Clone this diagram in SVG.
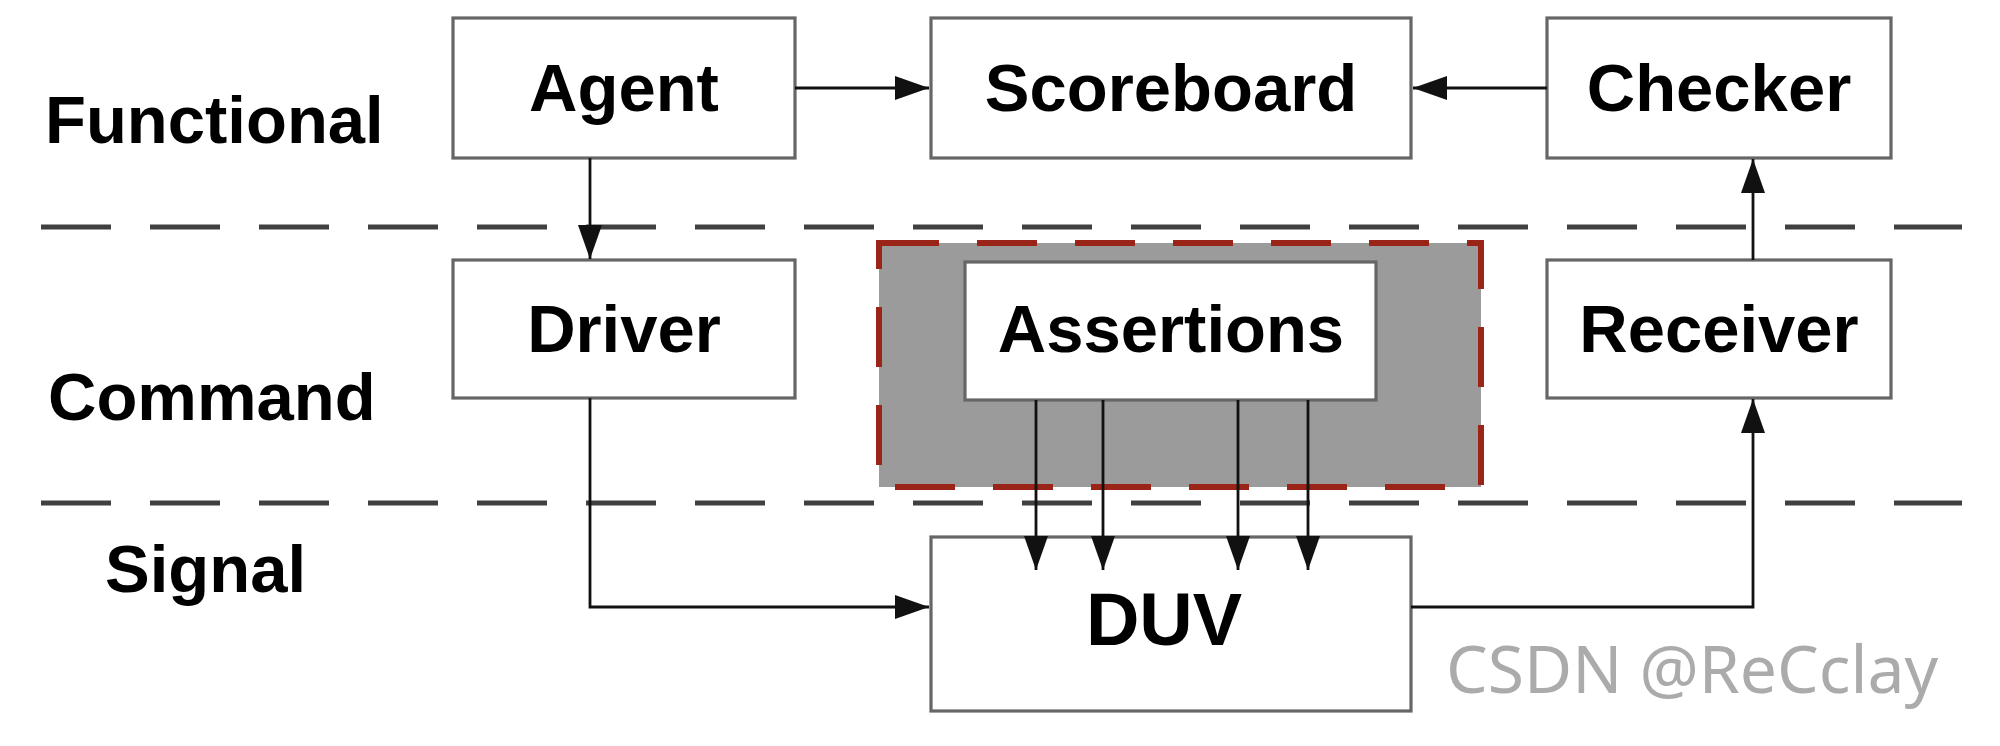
<svg xmlns="http://www.w3.org/2000/svg" width="2000" height="746" viewBox="0 0 2000 746">
<style>
.bg{fill:#ffffff}
.sep{stroke:#404040;stroke-width:5;stroke-dasharray:70 39;fill:none}
.box{fill:#ffffff;stroke:#666666;stroke-width:3.2}
.lbl{font-family:"Liberation Sans",Arial,sans-serif;font-weight:bold;font-size:67px;fill:#000;text-anchor:middle}
.row{font-family:"Liberation Sans",Arial,sans-serif;font-weight:bold;font-size:67px;fill:#000}
.con{stroke:#111;stroke-width:2.8;fill:none;marker-end:url(#ah)}
.wm{font-family:"Noto Sans","DejaVu Sans",sans-serif;font-size:66px;fill:#ababab}
</style>
<defs>
<marker id="ah" markerUnits="userSpaceOnUse" markerWidth="34" markerHeight="24" refX="34" refY="12" orient="auto">
<path d="M0,0 L34,12 L0,24 z" fill="#111"/>
</marker>
</defs>
<rect class="bg" x="0" y="0" width="2000" height="746"/>

<g id="separators">
<line class="sep" x1="41" y1="227" x2="1962" y2="227"/>
<line class="sep" x1="41" y1="503" x2="1962" y2="503"/>
</g>

<g id="row-labels">
<text class="row" x="45" y="143">Functional</text>
<text class="row" x="48" y="420">Command</text>
<text class="row" x="105" y="592">Signal</text>
</g>

<g id="assertion-zone">
<rect x="879" y="243" width="602" height="244" fill="#9b9b9b" stroke="#9a2418" stroke-width="6" stroke-dasharray="60 38"/>
</g>

<g id="agent">
<rect class="box" x="453" y="18" width="342" height="140"/>
<text class="lbl" x="624" y="111">Agent</text>
</g>
<g id="scoreboard">
<rect class="box" x="931" y="18" width="480" height="140"/>
<text class="lbl" x="1171" y="111">Scoreboard</text>
</g>
<g id="checker">
<rect class="box" x="1547" y="18" width="344" height="140"/>
<text class="lbl" x="1719" y="111">Checker</text>
</g>
<g id="driver">
<rect class="box" x="453" y="260" width="342" height="138"/>
<text class="lbl" x="624" y="352">Driver</text>
</g>
<g id="assertions">
<rect class="box" x="965" y="262" width="411" height="138"/>
<text class="lbl" x="1171" y="352">Assertions</text>
</g>
<g id="receiver">
<rect class="box" x="1547" y="260" width="344" height="138"/>
<text class="lbl" x="1719" y="352">Receiver</text>
</g>
<g id="duv">
<rect class="box" x="931" y="537" width="480" height="174"/>
<text class="lbl" x="1164" y="645" style="font-size:74px">DUV</text>
</g>

<g id="connectors">
<line class="con" x1="795" y1="88" x2="929" y2="88"/>
<line class="con" x1="1547" y1="88" x2="1413" y2="88"/>
<line class="con" x1="590" y1="158" x2="590" y2="259"/>
<line class="con" x1="1753" y1="260" x2="1753" y2="159"/>
<path class="con" d="M590,398 V607 H929"/>
<path class="con" d="M1411,607 H1753 V399"/>
<line class="con" x1="1036" y1="400" x2="1036" y2="570"/>
<line class="con" x1="1103" y1="400" x2="1103" y2="570"/>
<line class="con" x1="1238" y1="400" x2="1238" y2="570"/>
<line class="con" x1="1308" y1="400" x2="1308" y2="570"/>
</g>

<text class="wm" x="1446" y="693">CSDN @ReCclay</text>
</svg>
